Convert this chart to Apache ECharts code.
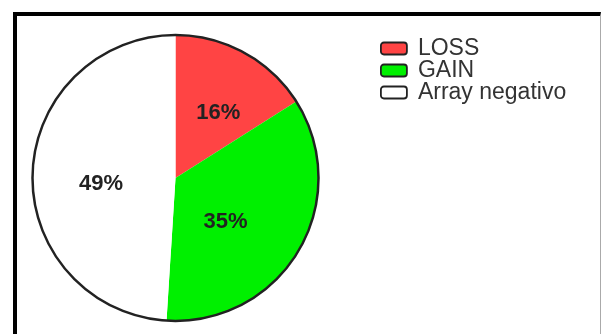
<!DOCTYPE html>
<html>
<head>
<meta charset="utf-8">
<script src="https://cdn.jsdelivr.net/npm/echarts@6/dist/echarts.min.js"></script>
<style>
html,body{margin:0;padding:0;background:#fff;overflow:hidden;}
#frame{position:absolute;left:13px;top:12px;width:588px;height:340px;border-top:4px solid #000;border-left:4px solid #000;border-right:1px solid #aaa;box-sizing:border-box;}
#chart{position:absolute;left:0;top:0;width:602px;height:334px;}
</style>
</head>
<body>
<div id="frame"></div>
<div id="chart"></div>
<script>
var categories = ['LOSS', 'GAIN', 'Array negativo'];
var values = [16, 35, 49];
var colors = ['#ff4444', '#00f000', '#ffffff'];
var labelOffsets = [[7, 0], [-14, 6], [0, 8]];

var chart = echarts.init(document.getElementById('chart'), null, {renderer: 'canvas'});
var data = categories.map(function (c, i) {
  return {name: c, value: values[i], itemStyle: {color: colors[i]}, label: {offset: labelOffsets[i]}};
});
chart.setOption({
  animation: false,
  backgroundColor: 'transparent',
  legend: {
    orient: 'vertical',
    left: 375,
    top: 32,
    itemWidth: 26,
    itemHeight: 12,
    itemGap: -1,
    data: categories,
    itemStyle: {borderColor: '#222', borderWidth: 1.8, borderRadius: 2},
    textStyle: {fontFamily: 'Liberation Sans, Arial, sans-serif', fontSize: 23, color: '#333', padding: [0, 0, 0, 6]}
  },
  series: [
    {
      type: 'pie',
      center: [175.5, 178],
      radius: [0, 143],
      startAngle: 90,
      clockwise: true,
      silent: true,
      itemStyle: {borderWidth: 0},
      label: {
        show: true,
        position: 'inner',
        formatter: '{c}%',
        fontFamily: 'Liberation Sans, Arial, sans-serif',
        fontWeight: 'bold',
        fontSize: 22,
        color: '#222'
      },
      labelLine: {show: false},
      data: data
    },
    {
      type: 'pie',
      center: [175.5, 178],
      radius: [0, 143],
      silent: true,
      z: 5,
      label: {show: false},
      labelLine: {show: false},
      itemStyle: {color: 'transparent', borderColor: '#222', borderWidth: 2.5},
      data: [{name: 'outline', value: 1}]
    }
  ]
});
</script>
</body>
</html>
